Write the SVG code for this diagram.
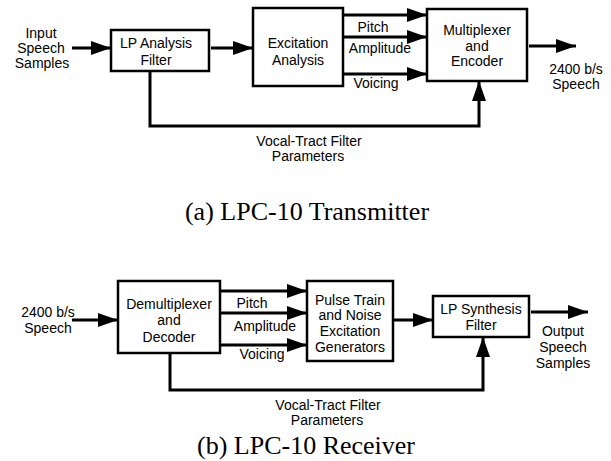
<svg xmlns="http://www.w3.org/2000/svg" width="611" height="461" viewBox="0 0 611 461">
<defs>
<style>
.box{fill:#fff;stroke:#000;stroke-width:2.5}
.ln{fill:none;stroke:#000;stroke-width:3;marker-end:url(#ah)}
text{font-family:"Liberation Sans",Arial,sans-serif;font-size:14px;fill:#000;text-anchor:middle}
.cap{font-family:"Liberation Serif","Times New Roman",serif;font-size:26px}
</style>
<marker id="ah" viewBox="0 0 20 14" refX="20" refY="7" markerWidth="20" markerHeight="14" markerUnits="userSpaceOnUse" orient="auto">
<path d="M0,0 L20,7 L0,14 z" fill="#000"/>
</marker>
</defs>
<rect width="611" height="461" fill="#fff"/>

<g id="connectors">
<line class="ln" x1="72" y1="48" x2="111" y2="48"/>
<line class="ln" x1="211" y1="48" x2="253" y2="48"/>
<line class="ln" x1="343" y1="15" x2="427" y2="15"/>
<line class="ln" x1="343" y1="37" x2="427" y2="37"/>
<line class="ln" x1="343" y1="74" x2="427" y2="74"/>
<line class="ln" x1="529" y1="46" x2="576" y2="46"/>
<polyline class="ln" points="150,71 150,126 479,126 479,81"/>

<line class="ln" x1="72" y1="320" x2="118" y2="320"/>
<line class="ln" x1="220" y1="291" x2="307" y2="291"/>
<line class="ln" x1="220" y1="313" x2="307" y2="313"/>
<line class="ln" x1="220" y1="345" x2="307" y2="345"/>
<line class="ln" x1="393" y1="320" x2="433" y2="320"/>
<line class="ln" x1="531" y1="312" x2="588" y2="312"/>
<polyline class="ln" points="170,353 170,390 483,390 483,337"/>
</g>

<g id="input-label">
<text x="41" y="38">Input</text>
<text x="41" y="53">Speech</text>
<text x="42" y="68">Samples</text>
</g>
<g id="lp-analysis">
<rect class="box" x="111" y="30" width="98" height="41"/>
<text x="156" y="48">LP Analysis</text>
<text x="156" y="65">Filter</text>
</g>
<g id="excitation-analysis">
<rect class="box" x="253" y="8" width="90" height="78"/>
<text x="298" y="48">Excitation</text>
<text x="298" y="65">Analysis</text>
</g>
<g id="tx-labels">
<text x="373" y="32">Pitch</text>
<text x="380" y="53">Amplitude</text>
<text x="376" y="88">Voicing</text>
</g>
<g id="multiplexer">
<rect class="box" x="427" y="9" width="100" height="72"/>
<text x="477" y="35">Multiplexer</text>
<text x="477" y="51">and</text>
<text x="477" y="66">Encoder</text>
</g>
<g id="tx-output-label">
<text x="576" y="74">2400 b/s</text>
<text x="576" y="89">Speech</text>
</g>
<g id="tx-vt-label">
<text x="309" y="146">Vocal-Tract Filter</text>
<text x="308" y="161">Parameters</text>
</g>
<text class="cap" x="307" y="220">(a) LPC-10 Transmitter</text>

<g id="rx-input-label">
<text x="48" y="317">2400 b/s</text>
<text x="48" y="333">Speech</text>
</g>
<g id="demultiplexer">
<rect class="box" x="118" y="281" width="102" height="72"/>
<text x="169" y="309">Demultiplexer</text>
<text x="169" y="325">and</text>
<text x="169" y="342">Decoder</text>
</g>
<g id="rx-labels">
<text x="252" y="308">Pitch</text>
<text x="265" y="331">Amplitude</text>
<text x="262" y="359">Voicing</text>
</g>
<g id="pulse-train">
<rect class="box" x="307" y="281" width="86" height="80"/>
<text x="350" y="305">Pulse Train</text>
<text x="350" y="320">and Noise</text>
<text x="350" y="336">Excitation</text>
<text x="350" y="352">Generators</text>
</g>
<g id="lp-synthesis">
<rect class="box" x="433" y="296" width="96" height="41"/>
<text x="481" y="314">LP Synthesis</text>
<text x="481" y="330">Filter</text>
</g>
<g id="rx-output-label">
<text x="563" y="336">Output</text>
<text x="563" y="352">Speech</text>
<text x="563" y="368">Samples</text>
</g>
<g id="rx-vt-label">
<text x="328" y="410">Vocal-Tract Filter</text>
<text x="327" y="425">Parameters</text>
</g>
<text class="cap" x="306" y="454">(b) LPC-10 Receiver</text>
</svg>
